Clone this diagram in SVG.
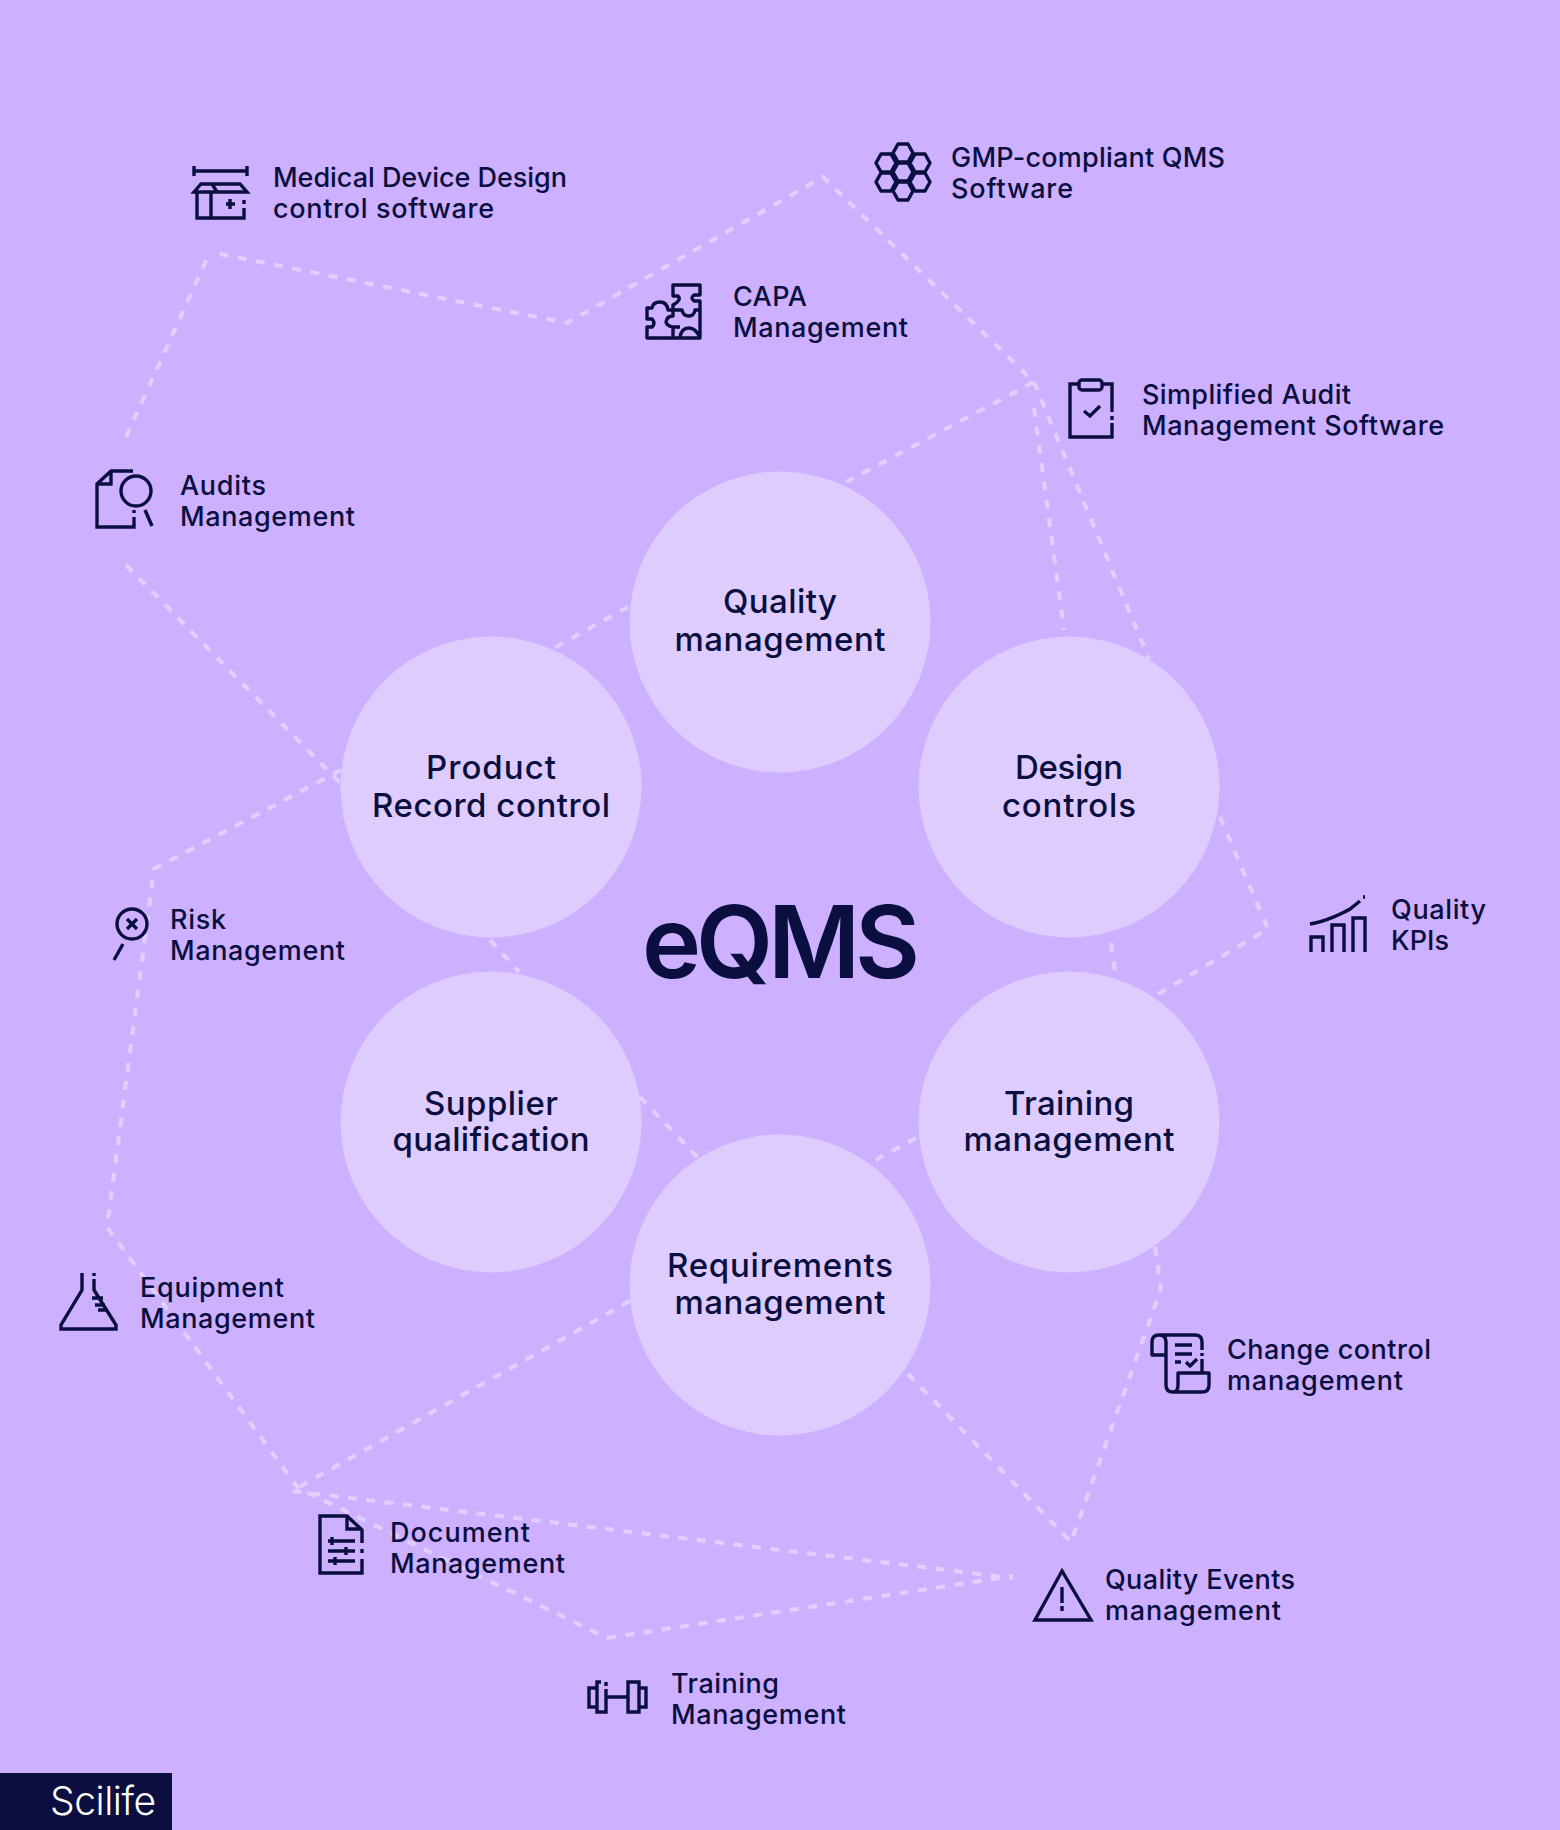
<svg xmlns="http://www.w3.org/2000/svg" width="1560" height="1830" viewBox="0 0 1560 1830">
<style>
.c{fill:#DFCCFF}
.d{fill:none;stroke:#E0CFFF;stroke-width:4.2;stroke-dasharray:9 9.500}
.i{fill:none;stroke:#0A0F40;stroke-width:3.400}
.t{font-family:"Inter","Liberation Sans",sans-serif;font-weight:550;font-size:27px;fill:#0A0F40}
.h{font-family:"Inter","Liberation Sans",sans-serif;font-weight:550;font-size:33px;fill:#0A0F40;text-anchor:middle}
</style>
<rect width="1560" height="1830" fill="#CDB0FF"/>
<g id="connectors">
<path class="d" d="M846 482L1034 382L823 177L567 323L210 252"/>
<path class="d" d="M126 437L210 252"/>
<path class="d" d="M1034 408L1064 630"/>
<path class="d" d="M1034 382L1149 659"/>
<path class="d" d="M126 565L341 784"/>
<path class="d" d="M341 770L154 869L107 1227L298 1488L607 1638L1013 1576"/>
<path class="d" d="M630 1301L292 1491L1013 1578"/>
<path class="d" d="M908 1374L1071 1542L1161 1289L1155 1246"/>
<path class="d" d="M1220 817L1268 929L1153 997"/>
<path class="d" d="M628 607L554 648"/>
<path class="d" d="M490 940L519 972"/>
<path class="d" d="M1111 943L1115 972"/>
<path class="d" d="M916 1138L872 1162"/>
<path class="d" d="M640 1097L698 1158"/>
</g>
<g id="node-quality"><circle class="c" cx="780" cy="622" r="150.500"/><text class="h" x="780" y="613" textLength="114">Quality</text><text class="h" x="780" y="651" textLength="211">management</text></g>
<g id="node-design"><circle class="c" cx="1069" cy="787" r="150.500"/><text class="h" x="1069" y="778.500" textLength="108">Design</text><text class="h" x="1069" y="816.500" textLength="134">controls</text></g>
<g id="node-product"><circle class="c" cx="491" cy="787" r="150.500"/><text class="h" x="491" y="778.500" textLength="130">Product</text><text class="h" x="491" y="816.500" textLength="238">Record control</text></g>
<g id="node-supplier"><circle class="c" cx="491" cy="1122" r="150.500"/><text class="h" x="491" y="1114.500" textLength="134">Supplier</text><text class="h" x="491" y="1151" textLength="197">qualification</text></g>
<g id="node-training"><circle class="c" cx="1069" cy="1122" r="150.500"/><text class="h" x="1069" y="1114.500" textLength="130">Training</text><text class="h" x="1069" y="1151" textLength="211">management</text></g>
<g id="node-requirements"><circle class="c" cx="780" cy="1285" r="150.500"/><text class="h" x="780" y="1277" textLength="226">Requirements</text><text class="h" x="780" y="1313.500" textLength="211">management</text></g>
<g id="center"><text x="781" y="978" text-anchor="middle" textLength="278" style="font-family:Inter,'Liberation Sans',sans-serif;font-weight:600;font-size:100px;fill:#0A0F40">eQMS</text></g>
<g id="label-medical"><path class="i" d="M194 166V176M247 166V176M194 171H247M194 192L201 184H240L247 192ZM212 184L217 192M197 192V218H244V208M244 204V200M211 192V218M226 204H235M230 199V209"/><text class="t" x="273" y="187" textLength="294">Medical Device Design</text><text class="t" x="273" y="218" textLength="221">control software</text></g>
<g id="label-gmp"><path class="i" stroke-linejoin="round" d="M893 153l5-9h10l5 9l-5 9h-10zM893 172l5-9h10l5 9l-5 9h-10zM893 191l5-9h10l5 9l-5 9h-10zM876 163l5-9h10l5 9l-5 9h-10zM876 182l5-9h10l5 9l-5 9h-10zM910 163l5-9h10l5 9l-5 9h-10zM910 182l5-9h10l5 9l-5 9h-10z"/><text class="t" x="951" y="167" textLength="274">GMP-compliant QMS</text><text class="t" x="951" y="198" textLength="122">Software</text></g>
<g id="label-capa"><path class="i" stroke-linejoin="round" d="M673 285H700V295H694Q690 298 694 301H700V310V338H647V327H652Q656 323 652 319H647V308H652Q653 302 660 302Q667 302 668 310H673V305Q682 300 678 296H673ZM673 310Q673 316 673 316Q667 316 666 322Q667 326 673 327V338M673 310H682Q683 316 689 316Q694 316 695 310H700M673 327H680M700 338Q696 328 689 328Q681 328 680 338"/><text class="t" x="733" y="306" textLength="74">CAPA</text><text class="t" x="733" y="337" textLength="175">Management</text></g>
<g id="label-audit"><path class="i" d="M1080 384H1070V437H1112V423M1112 420V416M1112 412V384H1102M1084 411L1090 416L1100 406"/><rect class="i" x="1079" y="380" width="23" height="10" rx="3"/><text class="t" x="1142" y="404" textLength="209">Simplified Audit</text><text class="t" x="1142" y="435" textLength="302">Management Software</text></g>
<g id="label-audits"><path class="i" d="M133 471H111L97 484V527H134V517M134 513V510M111 471V484H97M145 510L152 526"/><circle class="i" cx="136" cy="491" r="15"/><text class="t" x="180" y="495" textLength="86">Audits</text><text class="t" x="180" y="526" textLength="175">Management</text></g>
<g id="label-kpi"><path class="i" d="M1311 952V937H1323V952M1332 952V925H1344V952M1353 952V918H1365V952M1310 924C1325 922 1345 912 1350 909L1360 901M1363 897h2"/><text class="t" x="1391" y="919" textLength="95">Quality</text><text class="t" x="1391" y="950" textLength="58">KPIs</text></g>
<g id="label-risk"><circle class="i" cx="132" cy="924" r="15"/><path class="i" d="M127 919L137 929M137 919L127 929M123 944L114 960"/><text class="t" x="170" y="929" textLength="56">Risk</text><text class="t" x="170" y="960" textLength="175">Management</text></g>
<g id="label-equipment"><path class="i" d="M82 1273V1290L61 1325V1329H116V1325L94 1290V1279M94 1276V1273M92 1298H103M95 1305H105M98 1310H107"/><text class="t" x="140" y="1297" textLength="144">Equipment</text><text class="t" x="140" y="1328" textLength="175">Management</text></g>
<g id="label-change"><path class="i" stroke-linejoin="round" d="M1166 1355H1152V1342Q1152 1335 1159 1335H1195Q1202 1335 1202 1342V1350M1202 1353V1356M1202 1359V1373M1159 1335Q1166 1335 1166 1342V1385Q1166 1392 1173 1392H1202Q1209 1392 1209 1385V1373H1178V1385Q1178 1392 1173 1392M1175 1345H1192M1175 1354H1192M1175 1362H1181M1186 1362L1190 1366L1197 1359"/><text class="t" x="1227" y="1359" textLength="204">Change control</text><text class="t" x="1227" y="1390" textLength="176">management</text></g>
<g id="label-document"><path class="i" d="M362 1543V1530L347 1516H320V1573H362V1559M362 1553V1549M347 1516V1529H362M328 1541H355M328 1551H355M328 1561H355M332 1537V1545M346 1547V1555M335 1557V1565"/><text class="t" x="390" y="1542" textLength="140">Document</text><text class="t" x="390" y="1573" textLength="175">Management</text></g>
<g id="label-events"><path class="i" d="M1062 1571L1035 1620H1091ZM1062 1587V1603M1062 1606V1611"/><text class="t" x="1105" y="1589" textLength="190">Quality Events</text><text class="t" x="1105" y="1620" textLength="176">management</text></g>
<g id="label-training"><path class="i" d="M601 1682H597V1712H606V1689M606 1686V1682M606 1697H628M597 1688H589V1707H597M628 1682H639V1712H628ZM639 1688H646V1707H639"/><text class="t" x="671" y="1693" textLength="108">Training</text><text class="t" x="671" y="1724" textLength="175">Management</text></g>
<g id="brand"><rect x="0" y="1773" width="172" height="57" fill="#0A0F40"/><text x="50" y="1815" textLength="106" style="font-family:Inter,'Liberation Sans',sans-serif;font-weight:300;font-size:39px;fill:#FFFFFF">Scilife</text></g>
</svg>
